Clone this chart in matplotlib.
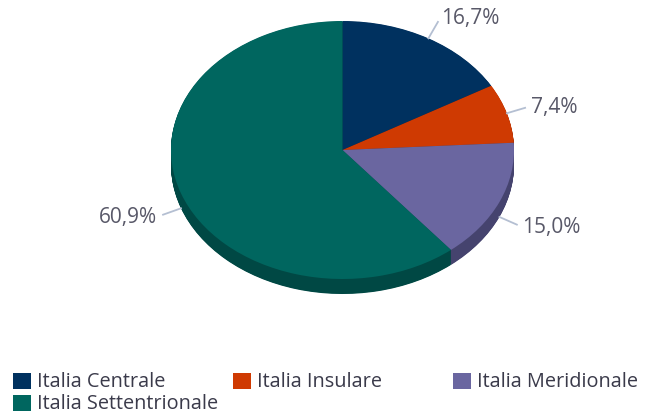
import numpy as np
import matplotlib
matplotlib.use('Agg')
import matplotlib.pyplot as plt
from matplotlib.patches import Rectangle

# dati
regioni = ['Italia Centrale', 'Italia Insulare', 'Italia Meridionale', 'Italia Settentrionale']
quote = [16.7, 7.4, 15.0, 60.9]
etichette = ['16,7%', '7,4%', '15,0%', '60,9%']
colori = ['#00315f', '#cf3a02', '#6a66a0', '#00665f']
colori_lato = ['#001f40', '#8a2603', '#45436e', '#004844']

plt.rcParams['font.family'] = ['Open Sans', 'DejaVu Sans']

W, H = 649, 414
fig = plt.figure(figsize=(W / 100, H / 100), dpi=100)

# area della torta (pixel): x 171..514, y 22..280 faccia superiore
px0, px1, py0, py1 = 171, 514, 22, 280
ax = fig.add_axes([px0 / W, (H - py1) / H, (px1 - px0) / W, (py1 - py0) / H])
rx = (px1 - px0) / 2.0   # pixel per unita' in x
ry = (py1 - py0) / 2.0   # pixel per unita' in y

spessore = 15  # px
depth = spessore / ry
n = 30
for i in range(n):
    off = -depth * (1 - i / n)
    ax.pie(quote, colors=colori_lato, startangle=90, counterclock=False,
           center=(0, off), radius=1, wedgeprops=dict(linewidth=0),
           frame=True)
ax.pie(quote, colors=colori, startangle=90, counterclock=False,
       center=(0, 0), radius=1, wedgeprops=dict(linewidth=0), frame=True)
ax.set_aspect('auto')
ax.set_xlim(-1, 1)
ax.set_ylim(-1, 1)
ax.axis('off')

# etichette con linee di collegamento (distanze in pixel)
cum = 0
for q, lab in zip(quote, etichette):
    mid = 90 - (cum + q / 2) * 3.6
    cum += q
    t = np.deg2rad(mid)
    c, s = np.cos(t), np.sin(t)
    ex, ey = c, s - (depth if s < 0 else 0)
    x1, y1 = ex + 19 * c / rx, ey + 19 * s / ry
    ax.plot([ex, x1], [ey, y1], color='#b4bfd2', lw=1.3, clip_on=False)
    ha = 'left' if c > 0 else 'right'
    xt = ex + (24 * c + (1 if c > 0 else -1)) / rx
    yt = ey + 24 * s / ry
    ax.text(xt, yt, lab, ha=ha, va='center',
            fontsize=15, color='#585868', clip_on=False)

# legenda
leg_x = [13, 233, 453, 13]
leg_y = [382, 382, 382, 404]
for nome, col, lx, ly in zip(regioni, colori, leg_x, leg_y):
    fig.patches.append(Rectangle((lx / W, (H - ly - 8) / H), 18 / W, 16 / H,
                                 transform=fig.transFigure, facecolor=col,
                                 edgecolor='none'))
    fig.text((lx + 24) / W, (H - ly) / H, nome, ha='left', va='center',
             fontsize=14.3, color='#3a3a4a')

fig.savefig('out.png', dpi=100)
